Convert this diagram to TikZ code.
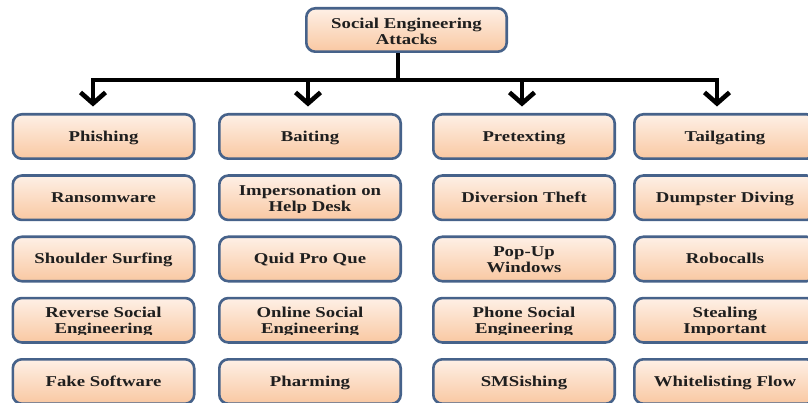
\documentclass[tikz,border=0pt]{standalone}
\usepackage{fontspec}
\setmainfont{Liberation Serif}[FakeStretch=1.25]
\usetikzlibrary{arrows.meta}
\definecolor{edge}{RGB}{70,98,138}
\definecolor{peachtop}{RGB}{254,240,230}
\definecolor{peachbot}{RGB}{249,200,162}
\begin{document}
\begin{tikzpicture}[x=1pt,y=-1pt,
  lbl/.style={font=\bfseries\fontsize{15}{16}\selectfont, align=center,
    inner sep=0pt, anchor=base, text=black!88},
  cell/.style={draw=edge, line width=2.6pt, rounded corners=9pt,
    top color=peachtop, bottom color=peachbot,
    minimum width=181.4pt, minimum height=44.4pt, inner sep=0pt},
  % single-line label, centred on the cap height
  one/.style={cell, path picture={
      \node[lbl] at ([yshift=-5pt]path picture bounding box.center) {#1};}},
  % two-line label (anchored on its last baseline), cut off by the text
  % frame just under the second line
  two/.style={cell, path picture={
      \clip ([yshift=7.5pt]path picture bounding box.south west)
        rectangle (path picture bounding box.north east);
      \node[lbl] at ([yshift=-13.5pt]path picture bounding box.center) {#1};}},
  head/.style={cell, minimum width=200.4pt, minimum height=43.4pt, path picture={
      \node[lbl] at ([yshift=-15pt]path picture bounding box.center) {#1};}},
  bus/.style={line width=4.6pt},
  drop/.style={bus, -{Straight Barb[length=11pt,width=25pt]}, shorten >=6.5pt},
  ]
\useasboundingbox (0,0) rectangle (808,403);
\clip (0,0) rectangle (808,403);

% root
\node[head={Social Engineering\\Attacks}] (root) at (406.5,30) {};

% column 1
\node[one={Phishing}] (c1r1) at (103.5,136.5) {};
\node[one={Ransomware}] (c1r2) at (103.5,197.75) {};
\node[one={Shoulder Surfing}] (c1r3) at (103.5,259) {};
\node[two={Reverse Social\\Engineering}] (c1r4) at (103.5,320.25) {};
\node[one={Fake Software}] (c1r5) at (103.5,381.5) {};

% column 2
\node[one={Baiting}] (c2r1) at (310,136.5) {};
\node[two={Impersonation on\\Help Desk}] (c2r2) at (310,197.75) {};
\node[one={Quid Pro Que}] (c2r3) at (310,259) {};
\node[two={Online Social\\Engineering}] (c2r4) at (310,320.25) {};
\node[one={Pharming}] (c2r5) at (310,381.5) {};

% column 3
\node[one={Pretexting}] (c3r1) at (524,136.5) {};
\node[one={Diversion Theft}] (c3r2) at (524,197.75) {};
\node[two={Pop-Up\\Windows}] (c3r3) at (524,259) {};
\node[two={Phone Social\\Engineering}] (c3r4) at (524,320.25) {};
\node[one={SMSishing}] (c3r5) at (524,381.5) {};

% column 4
\node[one={Tailgating}] (c4r1) at (725,136.5) {};
\node[one={Dumpster Diving}] (c4r2) at (725,197.75) {};
\node[one={Robocalls}] (c4r3) at (725,259) {};
\node[two={Stealing\\Important}] (c4r4) at (725,320.25) {};
\node[one={Whitelisting Flow}] (c4r5) at (725,381.5) {};

% connectors
\coordinate (hub) at (398,80);
\draw[bus] ([xshift=-8.5pt]root.south) -- (hub);
\draw[drop] (hub) -| ([xshift=-10.5pt]c1r1.north);
\draw[drop] (hub) -| ([xshift=-2pt]c2r1.north);
\draw[drop] (hub) -| ([xshift=-2pt]c3r1.north);
\draw[drop] (hub) -| ([xshift=-8pt]c4r1.north);
\end{tikzpicture}
\end{document}
